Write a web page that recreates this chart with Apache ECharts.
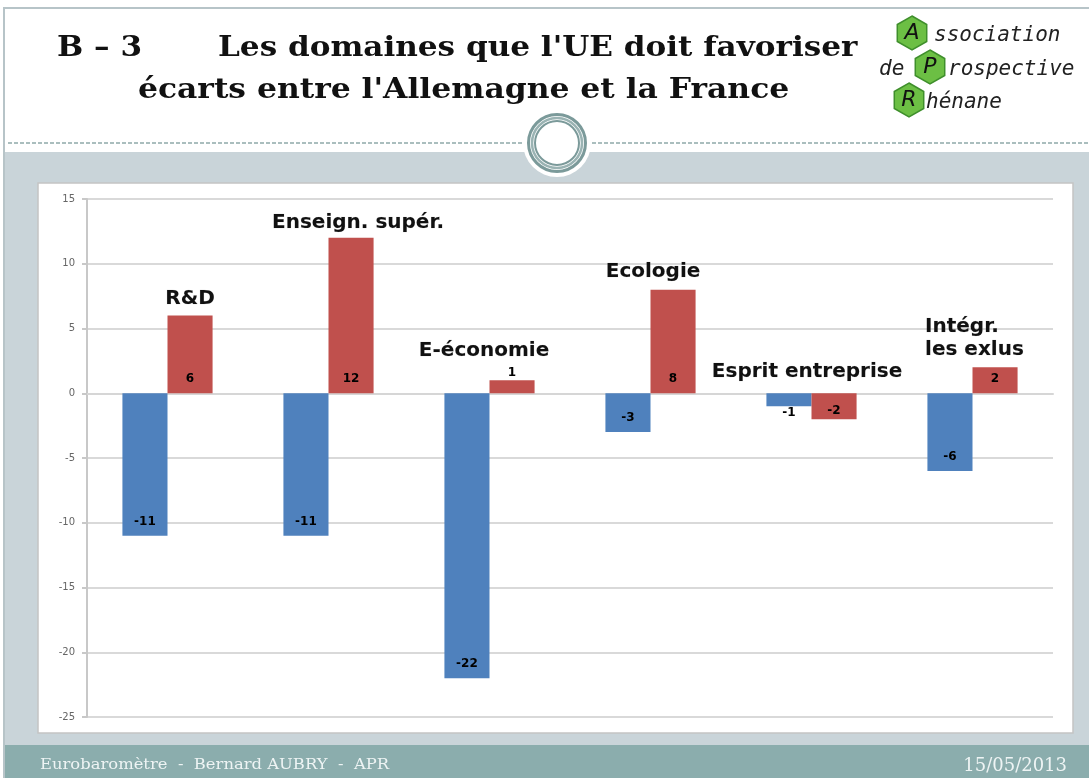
<!DOCTYPE html>
<html>
<head>
<meta charset="utf-8">
<title>Les domaines que l'UE doit favoriser</title>
<script src="https://cdn.jsdelivr.net/npm/echarts@6/dist/echarts.min.js"></script>
<style>
  html, body { margin: 0; padding: 0; background: #fff; }
  #chart { width: 1089px; height: 778px; }
</style>
</head>
<body>
<div id="chart"></div>
<script>
// domaines (catégories)
const categories = ['R&D', 'Enseign. supér.', 'E-économie', 'Ecologie', 'Esprit entreprise', 'Intégr.\nles exlus']
// série bleue / série rouge
const seriesBlue = [-11, -11, -22, -3, -1, -6]
const seriesRed = [6, 12, 1, 8, -2, 2]
// axe vertical
const yMin = -25
const yMax = 15
const yStep = 5

const chart = echarts.init(document.getElementById('chart'))

// petit hexagone pour le logo
function hexPoints(cx, cy, r) {
  const pts = []
  for (let k = 0; k < 6; k++) {
    const a = (Math.PI / 180) * (60 * k - 90)
    pts.push([cx + r * Math.cos(a), cy + r * Math.sin(a)])
  }
  return pts
}

// décalage des noms de domaine par rapport au haut de la barre rouge
const nameShift = [[0, -17], [7, -15], [-28, -30], [-20, -18], [-27, -47], [-70, -29]]
const nameAlign = ['center', 'center', 'center', 'center', 'center', 'left']

const numLabel = {
  show: true,
  color: '#000',
  fontFamily: 'DejaVu Sans',
  fontWeight: 'bold',
  fontSize: 12
}

function barData(values) {
  return values.map(v => {
    if (v === -1) return { value: v, label: { position: 'bottom', distance: 1 } }
    if (v === 1) return { value: v, label: { position: 'top', distance: 1 } }
    if (v === -2) return { value: v, label: { distance: 2 } }
    return v
  })
}

const titleFont = 'bold 28px "DejaVu Serif"'
const logoFont = 'italic 21px "DejaVu Sans Mono"'

chart.setOption({
  animation: false,
  graphic: [
    // cadre de la diapositive
    { type: 'rect', shape: { x: 4, y: 8, width: 1090, height: 775 }, style: { fill: '#fff', stroke: '#b7c4c8', lineWidth: 2 } },
    { type: 'rect', shape: { x: 5, y: 152, width: 1084, height: 594 }, style: { fill: '#c9d4d9' } },
    { type: 'rect', shape: { x: 5, y: 745, width: 1084, height: 33 }, style: { fill: '#8badad' } },
    // ligne pointillée + ornement
    { type: 'line', shape: { x1: 8, y1: 143, x2: 523, y2: 143 }, style: { stroke: '#8fa9a9', lineWidth: 1.5, lineDash: [4, 2] } },
    { type: 'line', shape: { x1: 592, y1: 143, x2: 1089, y2: 143 }, style: { stroke: '#8fa9a9', lineWidth: 1.5, lineDash: [4, 2] } },
    { type: 'circle', shape: { cx: 557, cy: 143, r: 34 }, style: { fill: '#fff' } },
    { type: 'circle', shape: { cx: 557, cy: 143, r: 28.5 }, style: { fill: 'none', stroke: '#7b9a9a', lineWidth: 3 } },
    { type: 'circle', shape: { cx: 557, cy: 143, r: 25 }, style: { fill: 'none', stroke: '#9ab3b3', lineWidth: 2.5 } },
    { type: 'circle', shape: { cx: 557, cy: 143, r: 22 }, style: { fill: 'none', stroke: '#7b9a9a', lineWidth: 2 } },
    // titre
    { type: 'text', x: 57, y: 49, scaleX: 1.11, style: { text: 'B – 3', font: titleFont, fill: '#111', textVerticalAlign: 'middle' } },
    { type: 'text', x: 218, y: 49, scaleX: 1.11, style: { text: "Les domaines que l'UE doit favoriser pour réduire les", font: titleFont, fill: '#111', textVerticalAlign: 'middle' } },
    { type: 'text', x: 138, y: 91, scaleX: 1.12, style: { text: "écarts entre l'Allemagne et la France", font: titleFont, fill: '#111', textVerticalAlign: 'middle' } },
    // logo APR
    { type: 'rect', shape: { x: 862, y: 11, width: 227, height: 126 }, style: { fill: '#fff' } },
    { type: 'polygon', shape: { points: hexPoints(912, 33, 17) }, style: { fill: '#6cbf44', stroke: '#3f8f2c', lineWidth: 1.5 } },
    { type: 'polygon', shape: { points: hexPoints(930, 67, 17) }, style: { fill: '#6cbf44', stroke: '#3f8f2c', lineWidth: 1.5 } },
    { type: 'polygon', shape: { points: hexPoints(909, 100, 17) }, style: { fill: '#6cbf44', stroke: '#3f8f2c', lineWidth: 1.5 } },
    { type: 'text', x: 912, y: 33, style: { text: 'A', font: 'italic 22px "DejaVu Sans"', fill: '#111', textAlign: 'center', textVerticalAlign: 'middle' } },
    { type: 'text', x: 930, y: 67, style: { text: 'P', font: 'italic 22px "DejaVu Sans"', fill: '#111', textAlign: 'center', textVerticalAlign: 'middle' } },
    { type: 'text', x: 909, y: 100, style: { text: 'R', font: 'italic 22px "DejaVu Sans"', fill: '#111', textAlign: 'center', textVerticalAlign: 'middle' } },
    { type: 'text', x: 934, y: 36, style: { text: 'ssociation', font: logoFont, fill: '#222', textVerticalAlign: 'middle' } },
    { type: 'text', x: 879, y: 70, style: { text: 'de', font: logoFont, fill: '#222', textVerticalAlign: 'middle' } },
    { type: 'text', x: 948, y: 70, style: { text: 'rospective', font: logoFont, fill: '#222', textVerticalAlign: 'middle' } },
    { type: 'text', x: 926, y: 103, style: { text: 'hénane', font: logoFont, fill: '#222', textVerticalAlign: 'middle' } },
    // cadre blanc du graphique
    { type: 'rect', shape: { x: 38, y: 183, width: 1035, height: 550 }, style: { fill: '#fff', stroke: '#c4c4c4', lineWidth: 1.5 } },
    // pied de page
    { type: 'text', x: 40, y: 765, scaleX: 1.17, style: { text: 'Eurobaromètre  -  Bernard AUBRY  -  APR', font: '14px "DejaVu Serif"', fill: '#eef4f4', textVerticalAlign: 'middle' } },
    { type: 'text', x: 1067, y: 766, style: { text: '15/05/2013', font: '18px "DejaVu Serif"', fill: '#eef4f4', textAlign: 'right', textVerticalAlign: 'middle' } }
  ],
  grid: { left: 87, right: 36, top: 199, bottom: 61, containLabel: false },
  xAxis: {
    type: 'category',
    data: categories,
    axisLabel: { show: false },
    axisTick: { show: false },
    axisLine: { show: true, lineStyle: { color: '#d6d6d6', width: 2 } }
  },
  yAxis: {
    type: 'value',
    min: yMin,
    max: yMax,
    interval: yStep,
    axisLine: { show: true, lineStyle: { color: '#c8c8c8', width: 2 } },
    axisTick: { show: true, length: 5, lineStyle: { color: '#c8c8c8', width: 2 } },
    axisLabel: { color: '#666', fontSize: 10, fontFamily: 'DejaVu Sans', margin: 12 },
    splitLine: { show: true, lineStyle: { color: '#d9d9d9', width: 2 } }
  },
  series: [
    {
      name: 'Série bleue',
      type: 'bar',
      data: barData(seriesBlue),
      itemStyle: { color: '#4f81bd' },
      label: Object.assign({}, numLabel, { position: 'insideBottom', distance: 8 })
    },
    {
      name: 'Série rouge',
      type: 'bar',
      data: barData(seriesRed),
      barGap: '0%',
      barCategoryGap: '44%',
      itemStyle: { color: '#c0504d' },
      label: Object.assign({}, numLabel, { position: 'insideBottom', distance: 8 }),
      markPoint: {
        symbol: 'circle',
        symbolSize: 0,
        silent: true,
        data: categories.map((c, i) => ({
          coord: [c, seriesRed[i]],
          label: {
            show: true,
            formatter: c,
            position: 'inside',
            offset: nameShift[i],
            color: '#111',
            fontFamily: 'DejaVu Sans',
            fontWeight: 'bold',
            fontSize: 20,
            lineHeight: 23,
            align: nameAlign[i],
            textBorderColor: 'rgba(0,0,0,0.15)',
            textBorderWidth: 0.5
          }
        }))
      }
    }
  ]
})
</script>
</body>
</html>
